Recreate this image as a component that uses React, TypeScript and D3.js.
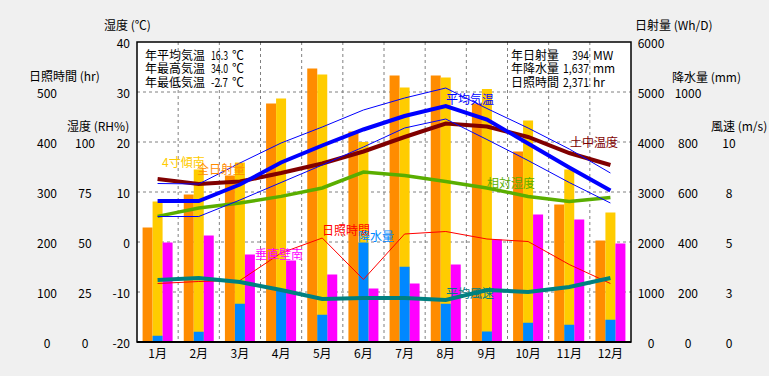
import React from "react";
import * as d3 from "d3";

const months = ["1月","2月","3月","4月","5月","6月","7月","8月","9月","10月","11月","12月"];
// Solar radiation (Wh/D)
const solarTotal = [2290, 2950, 3330, 4770, 5470, 4210, 5330, 5330, 4770, 3810, 2750, 2030];
const solarTilt = [2810, 3450, 3590, 4870, 5350, 4000, 5090, 5290, 5060, 4430, 3450, 2590];
const solarWall = [1990, 2130, 1750, 1630, 1350, 1070, 1170, 1550, 2050, 2550, 2450, 1970];
// Precipitation (mm)
const rain = [25, 41, 153, 209, 109, 398, 301, 153, 42, 77, 69, 89];
// Temperatures (°C)
const tAvg = [8.2, 8.2, 11.5, 15.9, 19.3, 22.5, 25.2, 27.2, 24.5, 19.7, 14.9, 10.3];
const tMax = [11.7, 11.6, 15.8, 19.8, 23.0, 26.4, 28.8, 30.8, 26.7, 22.8, 18.6, 13.8];
const tMin = [5.1, 5.1, 8.4, 11.9, 15.4, 19.0, 22.8, 24.6, 20.5, 16.3, 11.9, 7.8];
const tSoil = [12.6, 11.6, 12.1, 13.8, 15.7, 18.1, 21.0, 23.7, 23.1, 21.0, 17.8, 15.4];
// Relative humidity (%)
const rh = [62.8, 67.0, 69.5, 72.8, 77.0, 85.0, 83.3, 80.3, 77.0, 72.8, 70.2, 72.2];
// Sunshine hours (hr)
const sunHours = [117, 121, 123, 178, 208, 125, 216, 221, 206, 201, 155, 117];
// Wind speed (m/s)
const wind = [3.1, 3.2, 3.0, 2.6, 2.15, 2.2, 2.2, 2.1, 2.6, 2.5, 2.75, 3.2];

const tempTicks = [-20, -10, 0, 10, 20, 30, 40];
const hourTicks = [0, 100, 200, 300, 400, 500];
const rhTicks = [0, 25, 50, 75, 100];
const solarTicks = [0, 1000, 2000, 3000, 4000, 5000, 6000];
const rainTicks = [0, 200, 400, 600, 800, 1000];
const windTicks = [0, 2.5, 5, 7.5, 10];
const windTickLabels = ["0", "3", "5", "8", "10"];
const gridTemps = [30, 20, 10, 0, -10];

const summaryLeftLabels = ["年平均気温", "年最高気温", "年最低気温"];
const summaryLeftValues = ["16.3", "34.0", "-2.7"];
const summaryRightLabels = ["年日射量", "年降水量", "日照時間"];
const summaryRightValues = ["394", "1,637", "2,371"];
const summaryRightUnits = ["MW", "mm", "hr"];

const W = 769, H = 376;
const L = 137, R = 631, T = 42, B = 342;
const FONT = "'Noto Sans CJK JP', 'Noto Sans', sans-serif";

export default function App() {
  const x = d3.scaleBand<string>().domain(months).range([L, R]).paddingInner(0).paddingOuter(0);
  const bw = x.bandwidth();
  const cx = (i: number) => (x(months[i]) as number) + bw / 2;
  const yTemp = d3.scaleLinear().domain([-20, 40]).range([B, T]);
  const ySolar = d3.scaleLinear().domain([0, 6000]).range([B, T]);
  const yRain = d3.scaleLinear().domain([0, 1000]).range([B, yTemp(30)]);
  const yWind = d3.scaleLinear().domain([0, 10]).range([B, yTemp(20)]);
  const yHours = d3.scaleLinear().domain([0, 500]).range([B, yTemp(30)]);
  const yRH = d3.scaleLinear().domain([0, 100]).range([B, yTemp(20)]);

  const mk = (arr: number[], y: (v: number) => number) =>
    d3.line<number>().x((_, i) => cx(i)).y((d) => y(d))(arr) as string;

  const barW = 10;
  const bars = (arr: number[], y: (v: number) => number, off: number, color: string, key: string) =>
    arr.map((v, i) => (
      <rect key={key + i} x={cx(i) + off} y={y(v)} width={barW} height={B - y(v)} fill={color} />
    ));

  const txt = (s: string, xx: number, yy: number, color = "#000", anchor = "start", key?: string) => (
    <text key={key} x={xx} y={yy} fill={color} textAnchor={anchor} dominantBaseline="central"
      fontSize={12} fontFamily={FONT}>{s}</text>
  );

  const lineY = [54, 67.3, 80.6];

  return (
    <svg width={W} height={H} style={{ position: "absolute", left: 0, top: 0, background: "#F0F0F0" }}>
      <rect x={0} y={0} width={W} height={H} fill="#F0F0F0" />
      <rect x={L} y={T} width={R - L} height={B - T} fill="#FFFFFF" />
      {/* grid */}
      {gridTemps.map((g) => (
        <line key={"hg" + g} x1={L} x2={R} y1={yTemp(g)} y2={yTemp(g)} stroke="#808080" strokeDasharray="3,3" />
      ))}
      {months.slice(1).map((m) => (
        <line key={"vg" + m} x1={x(m) as number} x2={x(m) as number} y1={T} y2={B} stroke="#808080" strokeDasharray="3,3" />
      ))}
      {/* bars */}
      {bars(solarTotal, ySolar, -15, "#FF8C00", "o")}
      {bars(solarTilt, ySolar, -5, "#FFCC00", "g")}
      {bars(solarWall, ySolar, 5, "#FF00FF", "m")}
      {bars(rain, yRain, -5, "#0088FF", "b")}
      {/* lines */}
      <path d={mk(sunHours, yHours)} fill="none" stroke="#FF0000" strokeWidth={1} />
      <path d={mk(rh, yRH)} fill="none" stroke="#5AAE00" strokeWidth={3.5} />
      <path d={mk(tSoil, yTemp)} fill="none" stroke="#800000" strokeWidth={4} />
      <path d={mk(tMax, yTemp)} fill="none" stroke="#0000FF" strokeWidth={1} />
      <path d={mk(tMin, yTemp)} fill="none" stroke="#0000FF" strokeWidth={1} />
      <path d={mk(tAvg, yTemp)} fill="none" stroke="#0000FF" strokeWidth={4} />
      <path d={mk(wind, yWind)} fill="none" stroke="#008080" strokeWidth={4} />
      {/* frame */}
      <rect x={L} y={T} width={R - L} height={B - T} fill="none" stroke="#000" strokeWidth={1.5} />
      <line x1={L} x2={R} y1={B} y2={B} stroke="#000" strokeWidth={2} />
      {/* series labels */}
      {txt("平均気温", 446, 98, "#0000FF")}
      {txt("土中温度", 570, 141, "#800000")}
      {txt("4寸傾南", 162, 161, "#FFCC00")}
      {txt("全日射量", 197, 168, "#FF8C00")}
      {txt("相対湿度", 487, 182, "#5AAE00")}
      {txt("垂直壁南", 255, 253, "#FF00FF")}
      {txt("日照時間", 322, 229, "#FF0000")}
      {txt("降水量", 358, 235, "#0088FF")}
      {txt("平均風速", 446, 292, "#008080")}
      {/* summary top-left */}
      <text fontSize={12} fontFamily={FONT} fill="#000" dominantBaseline="central">
        {summaryLeftLabels.map((s, i) => (
          <React.Fragment key={"sl" + i}>
            <tspan x={145} y={lineY[i]}>{s}</tspan>
            <tspan x={211} y={lineY[i]} textLength={17} lengthAdjust="spacingAndGlyphs">{summaryLeftValues[i]}</tspan>
            <tspan x={232} y={lineY[i]}>℃</tspan>
          </React.Fragment>
        ))}
      </text>
      {/* summary top-right */}
      <text fontSize={12} fontFamily={FONT} fill="#000" dominantBaseline="central">
        {summaryRightLabels.map((s, i) => (
          <React.Fragment key={"sr" + i}>
            <tspan x={511} y={lineY[i]}>{s}</tspan>
            <tspan x={589 - (summaryRightValues[i].length > 3 ? 26 : 17)} y={lineY[i]}
              textLength={summaryRightValues[i].length > 3 ? 26 : 17} lengthAdjust="spacingAndGlyphs">
              {summaryRightValues[i]}
            </tspan>
            <tspan x={593} y={lineY[i]}>{summaryRightUnits[i]}</tspan>
          </React.Fragment>
        ))}
      </text>
      {/* x labels */}
      {months.map((m, i) => txt(m, cx(i), 352, "#000", "middle", "xl" + i))}
      {/* left axes */}
      {txt("湿度 (℃)", 104, 24)}
      {txt("日照時間 (hr)", 29, 75)}
      {txt("湿度 (RH%)", 67, 125)}
      {tempTicks.map((v) => txt(String(v), 130, yTemp(v), "#000", "end", "tt" + v))}
      {hourTicks.map((v) => txt(String(v), 47, yHours(v), "#000", "middle", "ht" + v))}
      {rhTicks.map((v) => txt(String(v), 85, yRH(v), "#000", "middle", "rt" + v))}
      {/* right axes */}
      {txt("日射量 (Wh/D)", 635, 24)}
      {txt("降水量 (mm)", 672, 76)}
      {txt("風速 (m/s)", 711, 125)}
      {solarTicks.map((v) => txt(String(v), 651, ySolar(v), "#000", "middle", "st" + v))}
      {rainTicks.map((v) => txt(String(v), 688, yRain(v), "#000", "middle", "pt" + v))}
      {windTicks.map((v, i) => txt(windTickLabels[i], 729, yWind(v), "#000", "middle", "wt" + v))}
    </svg>
  );
}
